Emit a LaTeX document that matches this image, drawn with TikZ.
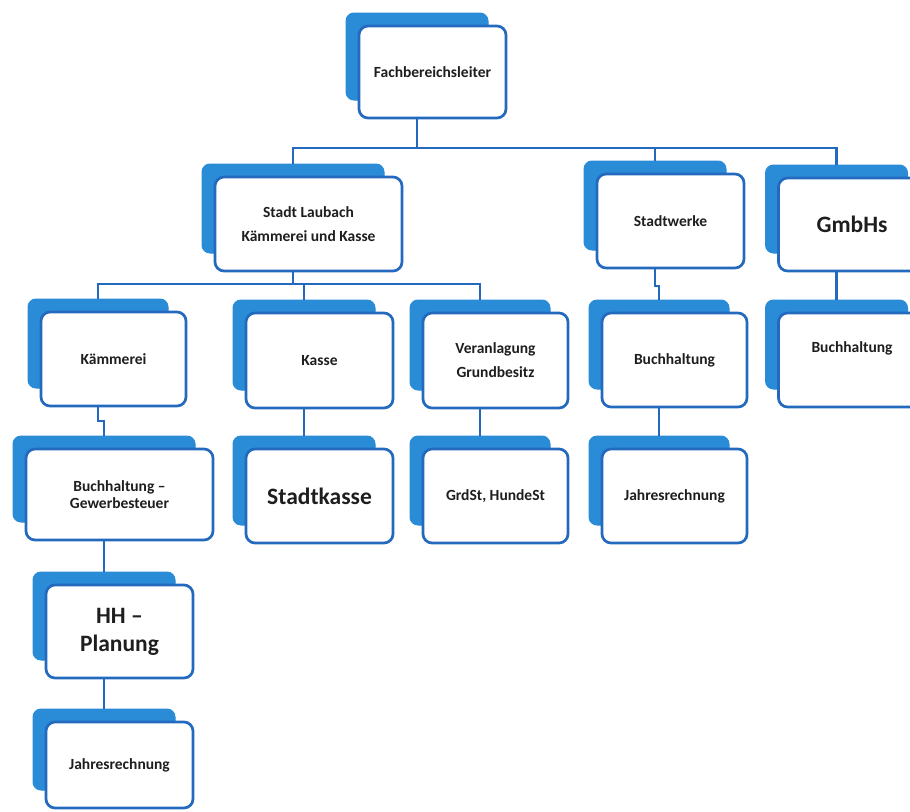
\documentclass[tikz,border=0pt]{standalone}
\usepackage{fontspec}
\setmainfont{Carlito}
\usetikzlibrary{calc}
\definecolor{bfill}{RGB}{42,140,215}
\definecolor{bline}{RGB}{35,105,190}
\definecolor{txtc}{RGB}{30,30,30}
\tikzset{
  backbox/.style={fill=bfill, draw=bfill, line width=1pt, rounded corners=8pt, inner sep=0pt, outer sep=0pt},
  frontbox/.style={fill=white, draw=bline, line width=2.7pt, rounded corners=9pt, inner sep=0pt, outer sep=0pt, align=center, text=txtc},
  conn/.style={draw=bline, line width=2.8pt},
  sm/.style={font=\fontsize{15.5}{24}\selectfont\bfseries},
  smtight/.style={font=\fontsize{15.5}{17}\selectfont\bfseries},
  lg/.style={font=\fontsize{23.5}{28}\selectfont\bfseries},
  txtnode/.style={inner sep=0pt, text=txtc, align=center},
}
\newcommand\orgbox[7]{%
  \node[backbox, minimum width=#4pt-5pt, minimum height=#5pt-5pt] (#1-b) at (#2-15.5,#3-15.5) {};
  \node[frontbox, #6, minimum width=#4pt, minimum height=#5pt] (#1) at (#2,#3) {#7};
}
\begin{document}
\begin{tikzpicture}[x=1pt, y=-1pt]
\useasboundingbox (0,0) rectangle (910,811);
\clip (0,0) rectangle (910,811);
% bus coordinates
\coordinate (bus0) at (0,148);
\coordinate (bus1) at (0,284);
\coordinate (jog1) at (0,421);
\coordinate (jog2) at (0,286);
% boxes
\orgbox{fbl}{432.5}{72}{147}{92}{sm}{Fachbereichsleiter}
\orgbox{sl}{308.5}{224}{187}{94}{sm}{Stadt Laubach\\Kämmerei und Kasse}
\orgbox{sw}{670.5}{221}{147}{94}{sm}{Stadtwerke}
\orgbox{gm}{852}{224.5}{147}{93}{lg}{GmbHs}
\orgbox{kae}{113.5}{359}{145}{94}{sm}{Kämmerei}
\orgbox{kas}{319.5}{360.5}{147}{95}{sm}{Kasse}
\orgbox{ver}{495.5}{360.5}{145}{95}{sm}{Veranlagung\\Grundbesitz}
\orgbox{bhs}{674.5}{360}{145}{94}{sm}{Buchhaltung}
\orgbox{gbh}{852}{360}{147}{94}{sm}{}
\node[txtnode, sm] (gbh-t) at (852,348) {Buchhaltung};
\orgbox{bgw}{119.5}{494.5}{187}{91}{smtight}{Buchhaltung –\\Gewerbesteuer}
\orgbox{stk}{319.5}{496}{147}{94}{lg}{Stadtkasse}
\orgbox{grd}{495.5}{496}{145}{94}{sm}{GrdSt, HundeSt}
\orgbox{jrs}{674.5}{496}{145}{94}{sm}{Jahresrechnung}
\orgbox{hhp}{119.5}{631.5}{147}{93}{lg}{HH –\\Planung}
\orgbox{jrl}{119.5}{765}{147}{86}{sm}{Jahresrechnung}
% connectors
\foreach \c in {sl,sw,gm}{
  \draw[conn] (fbl-b.south |- fbl.south) -- (fbl-b.south |- bus0) -| (\c-b.north);
}
\foreach \c in {kae,kas,ver}{
  \draw[conn] (sl-b.south |- sl.south) -- (sl-b.south |- bus1) -| (\c-b.north);
}
\draw[conn] (kae-b.south |- kae.south) -- (kae-b.south |- jog1) -| (bgw-b.north);
\draw[conn] (bgw-b.south |- bgw.south) -- (hhp-b.north);
\draw[conn] (hhp-b.south |- hhp.south) -- (jrl-b.north);
\draw[conn] (kas-b.south |- kas.south) -- (stk-b.north);
\draw[conn] (ver-b.south |- ver.south) -- (grd-b.north);
\draw[conn] (sw-b.south |- sw.south) -- (sw-b.south |- jog2) -| (bhs-b.north);
\draw[conn] (bhs-b.south |- bhs.south) -- (jrs-b.north);
\draw[conn] (gm-b.south |- gm.south) -- (gbh-b.north);
\end{tikzpicture}
\end{document}
